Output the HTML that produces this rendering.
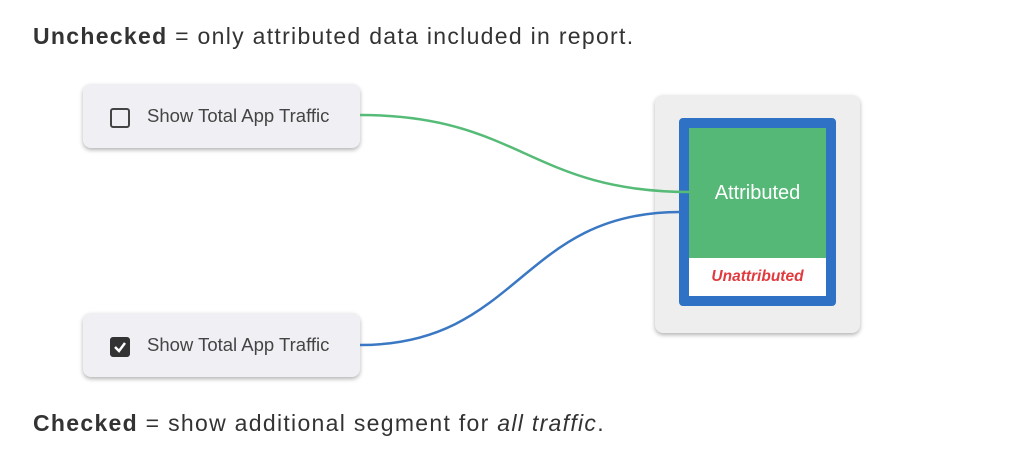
<!DOCTYPE html>
<html><head><style>
body{margin:0;width:1024px;height:456px;background:#fff;font-family:"Liberation Sans",sans-serif;position:relative;overflow:hidden}
.t{position:absolute;left:33px;font-size:23px;letter-spacing:1.3px;color:#333;white-space:nowrap}
.card{position:absolute;left:83px;width:277px;height:64px;background:#f0f0f4;border-radius:8px;box-shadow:0 2px 4px rgba(0,0,0,.3)}
.card span{position:absolute;left:64px;top:21px;font-size:18.5px;color:#444}
.cb{position:absolute;left:27px;top:24px;width:16px;height:16px;border:2px solid #444;border-radius:3px}
</style></head><body>
<div class="t" style="top:23px"><b>Unchecked</b> = only attributed data included in report.</div>
<div class="t" style="top:410px"><b>Checked</b> = show additional segment for <i>all traffic</i>.</div>
<div class="card" style="top:84px"><div class="cb"></div><span>Show Total App Traffic</span></div>
<div class="card" style="top:313px"><div class="cb" style="background:#333;border-color:#333"><svg width="16" height="16" style="position:absolute;left:0;top:0"><path d="M3 8 L7 12 L13 4" stroke="#fff" stroke-width="2.5" fill="none"/></svg></div><span>Show Total App Traffic</span></div>
<div style="position:absolute;left:655px;top:95px;width:205px;height:238px;background:#eeeeee;border-radius:8px;box-shadow:0 2px 4px rgba(0,0,0,.3)"></div>
<div style="position:absolute;left:679px;top:118px;width:137px;height:168px;border:10px solid #2f71c4;border-radius:4px;background:#fff">
<div style="position:absolute;left:0;top:0;width:137px;height:130px;background:#55b877;color:#fff;font-size:20px;text-align:center;line-height:130px">Attributed</div>
<div style="position:absolute;left:0;top:130px;width:137px;height:38px;color:#e03a3e;font-size:15.5px;font-weight:bold;font-style:italic;text-align:center;line-height:38px">Unattributed</div>
</div>
<svg style="position:absolute;left:0;top:0" width="1024" height="456">
<path d="M360 115 C520 115 530 192 690 192" stroke="#55bb77" stroke-width="2.5" fill="none"/>
<path d="M360 345 C520 345 520 212 680 212" stroke="#3a78c4" stroke-width="2.5" fill="none"/>
</svg>
</body></html>
